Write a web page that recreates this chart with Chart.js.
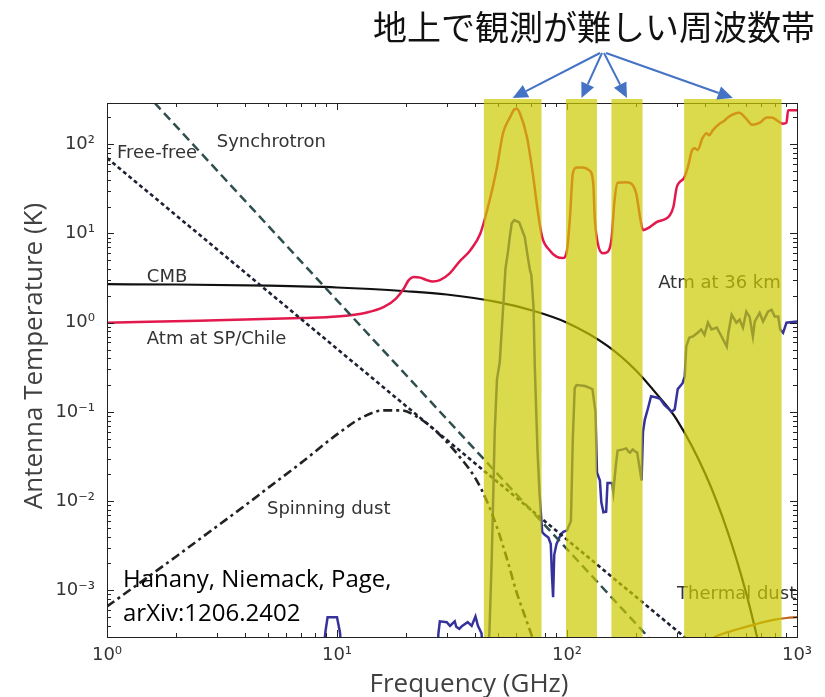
<!DOCTYPE html>
<html>
<head>
<meta charset="utf-8">
<script src="https://cdn.jsdelivr.net/npm/chart.js@4.4.0/dist/chart.umd.min.js"></script>
<style>
  html, body { margin: 0; padding: 0; background: #fff; }
  #wrap { width: 825px; height: 697px; }
</style>
</head>
<body>
<div id="wrap"><canvas id="chart" width="825" height="697"></canvas></div>
<script>
// axes
const xTicks = [1, 10, 100, 1000];
const yTicks = [1e-3, 1e-2, 1e-1, 1, 10, 100];
const xRange = [1, 1000];
const yRange = [3.1e-4, 290];

// bands that are hard to observe from the ground (GHz)
const bandLow = [43.5, 99, 156, 323];
const bandHigh = [77.5, 135, 213, 857];

// CMB
const cmbFreq = [1, 2, 5, 10, 20, 30, 50, 70, 100, 150, 200, 250, 300, 400, 500, 600, 700];
const cmbTemp = [2.70, 2.68, 2.60, 2.48, 2.25, 2.07, 1.70, 1.38, 1.0, 0.55, 0.29, 0.15, 0.082, 0.020, 0.0045, 0.00095, 0.00019];

// synchrotron / free-free
const synchFreq = [1, 10, 100, 1000];
const synchTemp = [1100, 1.78, 2.9e-3, 4.7e-6];
const ffFreq = [1, 10, 100, 1000];
const ffTemp = [70, 0.51, 3.7e-3, 2.7e-5];

// spinning dust
const spinFreq = [1, 1.5, 2, 3, 4, 5, 7, 10, 13, 16, 19, 22, 26, 30, 35, 40, 45, 50, 55, 60, 65, 72];
const spinTemp = [6.6e-4, 1.4e-3, 2.4e-3, 5.2e-3, 9.0e-3, 0.014, 0.027, 0.056, 0.088, 0.104, 0.104, 0.09,
  0.066, 0.046, 0.029, 0.018, 0.0098, 0.0048, 0.0022, 0.0010, 5.5e-4, 2.6e-4];

// thermal dust
const dustFreq = [400, 450, 500, 600, 700, 800, 900, 1000];
const dustTemp = [2.6e-4, 3.1e-4, 3.4e-4, 3.9e-4, 4.35e-4, 4.7e-4, 4.9e-4, 5.0e-4];

// atmosphere at SP/Chile
const atmGroundFreq = [1, 2.5, 7, 10, 13.5, 16, 18, 19.5, 20.5, 21.5,
  23, 24.6, 26, 28, 31, 34, 38, 42, 46, 49.6,
  52.7, 56.5, 59, 60.5, 62.5, 67, 71, 74.5, 78, 84,
  90, 96, 100, 103, 106, 110, 117, 125, 130, 132,
  136, 143, 150, 156, 161, 166, 181, 193, 200, 208,
  214, 229, 245, 280, 290, 300, 310, 323, 335, 350,
  360, 370, 388, 405, 415, 430, 460, 485, 500, 535,
  560, 600, 640, 690, 740, 775, 845, 870, 900, 915, 1000];
const atmGroundTemp = [1.0, 1.05, 1.13, 1.17, 1.3, 1.5, 1.85, 2.4, 3.0, 3.25,
  3.2, 3.0, 2.9, 3.0, 3.6, 4.8, 6.5, 10, 23, 55,
  133, 200, 245, 250, 220, 120, 47, 18.3, 9.1, 6.5,
  5.5, 5.3, 6.5, 15, 47, 55, 55, 51, 37, 15,
  7.8, 6.0, 6.2, 8.5, 23.6, 37, 37.6, 35, 28, 15,
  10.9, 11.8, 13.4, 16, 19.8, 33, 38, 42, 55, 86,
  90, 86, 117, 133, 126, 143, 170, 185, 200, 220,
  225, 195, 165, 175, 200, 200, 175, 170, 175, 240, 240];

// atmosphere at 36 km
const atmBalloonFreq = [1, 8.5, 8.9, 9.1, 10, 10.3, 10.7, 27, 27.6, 28,
  30, 31, 32.5, 33, 34, 35, 37, 38.5, 40, 41,
  42.5, 43.5, 45, 46, 47, 47.6, 48.5, 49.6, 51, 52.6,
  54, 55.5, 56.5, 57.5, 59, 62, 65.5, 67.5, 69, 70,
  71.5, 72.5, 73.5, 74.5, 76, 78, 80, 83, 85, 86,
  87, 88, 90, 93, 96, 100, 104, 106, 108, 110,
  120, 129, 133, 135, 139, 141, 144, 148, 150, 157,
  159, 163, 166, 175, 181, 185, 188, 193, 198, 202,
  206, 211, 214, 218, 225, 232, 245, 254, 265, 275,
  285, 294, 303, 318, 325, 330, 340, 352, 370, 383,
  396, 410, 425, 448, 470, 495, 503, 520, 545, 563,
  582, 602, 622, 643, 655, 688, 712, 748, 775, 800,
  829, 845, 870, 900, 1000];
const atmBalloonTemp = [5e-5, 1e-4, 3.4e-4, 5e-4, 5e-4, 3.4e-4, 1e-4, 1e-4, 3.3e-4, 4.5e-4,
  4.4e-4, 4.0e-4, 4.5e-4, 3.9e-4, 3.7e-4, 4.0e-4, 4.4e-4, 4.0e-4, 5.1e-4, 4.0e-4,
  3.3e-4, 1.5e-4, 1.5e-4, 3.4e-4, 2e-3, 7.5e-3, 0.06, 0.23, 0.36, 1.3,
  4.0, 6.5, 9.5, 13, 14.1, 13.3, 9.1, 5.5, 3.9, 3.4,
  1.5, 0.3, 0.1, 0.035, 0.012, 4.5e-3, 4.2e-3, 3.9e-3, 3.3e-3, 1.5e-3,
  8.4e-4, 2.5e-3, 3.3e-3, 4.0e-3, 4.5e-3, 4.7e-3, 6e-3, 0.05, 0.185, 0.2,
  0.195, 0.18, 0.1, 0.021, 0.017, 9.7e-3, 7.5e-3, 7.6e-3, 0.016, 0.016,
  0.0126, 0.025, 0.037, 0.038, 0.039, 0.036, 0.035, 0.038, 0.036, 0.035,
  0.025, 0.017, 0.06, 0.082, 0.11, 0.15, 0.145, 0.14, 0.12, 0.11,
  0.1, 0.107, 0.18, 0.21, 0.25, 0.54, 0.68, 0.7, 0.77, 0.84,
  0.73, 1.0, 0.84, 0.88, 0.7, 0.54, 0.77, 1.23, 1.0, 1.08,
  0.88, 1.33, 1.17, 0.7, 1.03, 1.29, 1.03, 1.33, 1.4, 1.17,
  1.17, 0.84, 0.77, 1.0, 1.03];

// text labels inside the plot (placed in data coordinates)
const labelTexts = ['Synchrotron', 'Free-free', 'CMB', 'Atm at SP/Chile', 'Spinning dust', 'Atm at 36 km', 'Thermal dust'];
const labelFreq = [3.0, 1.105, 1.49, 1.49, 4.96, 249, 301];
const labelTemp = [92, 70, 2.87, 0.58, 7.2e-3, 2.46, 7.9e-4];

const SUP = { '-': '\u207B', '0': '\u2070', '1': '\u00B9', '2': '\u00B2', '3': '\u00B3' };
const tenTo = (v) => '10' + String(Math.round(Math.log10(v))).split('').map((c) => SUP[c]).join('');

const zip = (xs, ys) => xs.map((f, i) => ({ x: f, y: ys[i] }));

function line(data, color, width, dash, smooth) {
  return {
    data,
    borderColor: color,
    borderWidth: width,
    borderDash: dash || [],
    pointRadius: 0,
    fill: false,
    cubicInterpolationMode: smooth ? 'monotone' : 'default',
    tension: 0,
  };
}

function arrow(ctx, x0, y0, x1, y1) {
  const ang = Math.atan2(y1 - y0, x1 - x0);
  const head = 15;
  const half = 7;
  const bx = x1 - head * Math.cos(ang);
  const by = y1 - head * Math.sin(ang);
  ctx.beginPath();
  ctx.moveTo(x0, y0);
  ctx.lineTo(bx, by);
  ctx.stroke();
  ctx.beginPath();
  ctx.moveTo(x1, y1);
  ctx.lineTo(bx + half * Math.sin(ang), by - half * Math.cos(ang));
  ctx.lineTo(bx - half * Math.sin(ang), by + half * Math.cos(ang));
  ctx.closePath();
  ctx.fill();
}

const overlay = {
  id: 'overlay',
  afterDatasetsDraw(chart) {
    const { ctx, scales: { x, y } } = chart;
    ctx.save();
    ctx.font = '18px "DejaVu Sans"';
    ctx.fillStyle = '#333';
    ctx.textBaseline = 'alphabetic';
    labelTexts.forEach((t, i) => {
      ctx.fillText(t, x.getPixelForValue(labelFreq[i]), y.getPixelForValue(labelTemp[i]));
    });
    ctx.restore();
  },
  afterDraw(chart) {
    const { ctx, chartArea: a, scales: { x, y } } = chart;
    ctx.save();

    // frame and inward log ticks on all four sides
    ctx.strokeStyle = '#222';
    ctx.lineWidth = 1;
    ctx.strokeRect(Math.round(a.left) + 0.5, Math.round(a.top) + 0.5,
      Math.round(a.right - a.left), Math.round(a.bottom - a.top));
    ctx.beginPath();
    for (let d = 0; d <= 3; d++) {
      for (let m = 1; m <= 9; m++) {
        const v = m * Math.pow(10, d);
        if (v < xRange[0] || v > xRange[1]) continue;
        const px = Math.round(x.getPixelForValue(v)) + 0.5;
        const len = m === 1 ? 7 : 4;
        ctx.moveTo(px, a.bottom); ctx.lineTo(px, a.bottom - len);
        ctx.moveTo(px, a.top); ctx.lineTo(px, a.top + len);
      }
    }
    for (let d = -4; d <= 2; d++) {
      for (let m = 1; m <= 9; m++) {
        const v = m * Math.pow(10, d);
        if (v < yRange[0] || v > yRange[1]) continue;
        const py = Math.round(y.getPixelForValue(v)) + 0.5;
        const len = m === 1 ? 7 : 4;
        ctx.moveTo(a.left, py); ctx.lineTo(a.left + len, py);
        ctx.moveTo(a.right, py); ctx.lineTo(a.right - len, py);
      }
    }
    ctx.stroke();

    // yellow bands on top of everything
    ctx.fillStyle = 'rgba(202, 202, 0, 0.7)';
    bandLow.forEach((lo, i) => {
      const x0 = x.getPixelForValue(lo);
      const x1 = x.getPixelForValue(bandHigh[i]);
      ctx.fillRect(x0, a.top - 4, x1 - x0, a.bottom - a.top + 4);
    });

    // arrows and caption
    ctx.strokeStyle = '#4472C4';
    ctx.fillStyle = '#4472C4';
    ctx.lineWidth = 2;
    bandLow.forEach((lo, i) => {
      const cx = (x.getPixelForValue(lo) + x.getPixelForValue(bandHigh[i])) / 2;
      arrow(ctx, 600 + i * 2, 53, cx, a.top - 5);
    });
    ctx.fillStyle = '#111';
    ctx.font = '34px "Noto Sans CJK JP"';
    ctx.textAlign = 'center';
    ctx.textBaseline = 'middle';
    ctx.fillText('地上で観測が難しい周波数帯', 594, 27);

    // axis titles
    ctx.fillStyle = '#404040';
    ctx.font = '26px "Open Sans"';
    ctx.textBaseline = 'alphabetic';
    ctx.fillText('Frequency (GHz)', 469, 692);
    ctx.save();
    ctx.translate(42, 356);
    ctx.rotate(-Math.PI / 2);
    ctx.fillText('Antenna Temperature (K)', 0, 0);
    ctx.restore();

    // reference
    ctx.fillStyle = '#000';
    ctx.font = '24px "Open Sans"';
    ctx.textAlign = 'left';
    ctx.fillText('Hanany, Niemack, Page,', 123, 587);
    ctx.fillText('arXiv:1206.2402', 123, 621);
    ctx.restore();
  },
};

const tickFont = { family: 'DejaVu Sans', size: 18 };

new Chart(document.getElementById('chart'), {
  type: 'line',
  data: {
    datasets: [
      line(zip(synchFreq, synchTemp), '#2f4f4f', 2.5, [9, 5], false),
      line(zip(ffFreq, ffTemp), '#1c2233', 2.6, [4, 3], false),
      line(zip(spinFreq, spinTemp), '#222222', 2.6, [9, 4, 3, 4], true),
      line(zip(dustFreq, dustTemp), '#c0651c', 2.2, null, true),
      line(zip(atmBalloonFreq, atmBalloonTemp), '#35329c', 2.5, null, false),
      line(zip(atmGroundFreq, atmGroundTemp), '#e3184c', 2.5, null, true),
      line(zip(cmbFreq, cmbTemp), '#111111', 2.2, null, true),
    ],
  },
  options: {
    responsive: false,
    animation: false,
    layout: { padding: { top: 103, right: 28, left: 0, bottom: 0 } },
    plugins: { legend: { display: false }, tooltip: { enabled: false } },
    scales: {
      x: {
        type: 'logarithmic',
        min: xRange[0],
        max: xRange[1],
        grid: { display: false, drawTicks: false },
        border: { display: false },
        afterBuildTicks: (s) => { s.ticks = xTicks.map((v) => ({ value: v })); },
        afterFit: (s) => { s.height = 60; },
        ticks: { autoSkip: false, maxRotation: 0, padding: 8, font: tickFont, color: '#333', callback: (v) => tenTo(v) },
      },
      y: {
        type: 'logarithmic',
        min: yRange[0],
        max: yRange[1],
        grid: { display: false, drawTicks: false },
        border: { display: false },
        afterBuildTicks: (s) => { s.ticks = yTicks.map((v) => ({ value: v })); },
        afterFit: (s) => { s.width = 107; },
        ticks: { autoSkip: false, padding: 12, font: tickFont, color: '#333', callback: (v) => tenTo(v) },
      },
    },
  },
  plugins: [overlay],
});
</script>
</body>
</html>
